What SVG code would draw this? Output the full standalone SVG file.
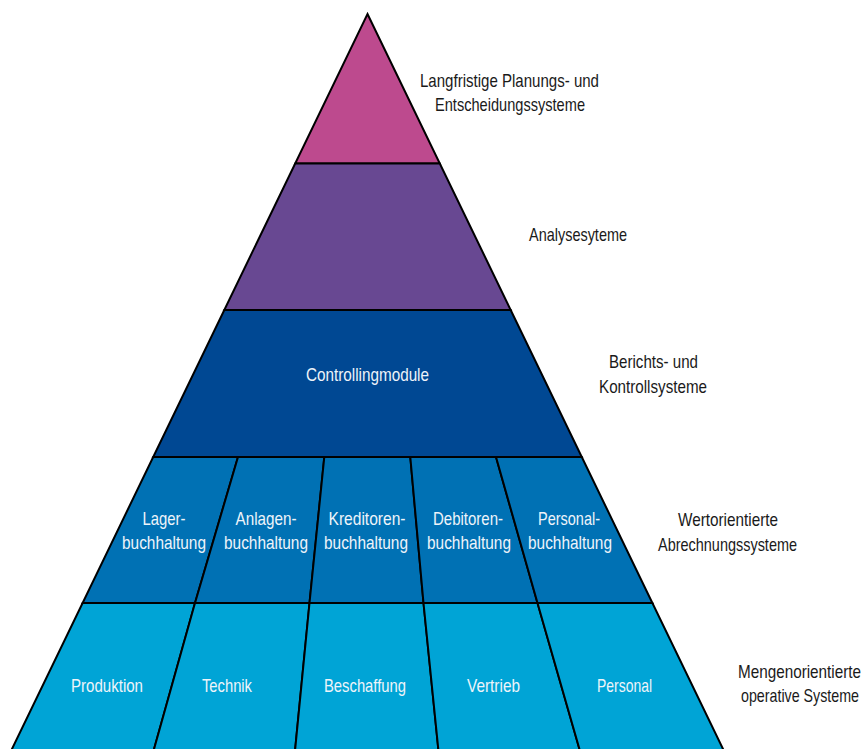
<svg xmlns="http://www.w3.org/2000/svg" width="864" height="749" viewBox="0 0 864 749">
<style>
.cell{stroke:#000;stroke-width:2;stroke-linejoin:miter}
.in{font-family:"Liberation Sans","DejaVu Sans",sans-serif;font-size:18.5px;fill:#eef4fa;text-anchor:middle}
.out{font-family:"Liberation Sans","DejaVu Sans",sans-serif;font-size:18.5px;fill:#1a1a1a;text-anchor:middle}
</style>
<rect width="864" height="749" fill="#fff"/>
<g id="level1">
<polygon class="cell" fill="#bd4a8e" points="367.5,14 439.8,163.5 295.2,163.5"/>
</g>
<g id="level2">
<polygon class="cell" fill="#684892" points="295.2,163.5 439.8,163.5 510.7,310 224.3,310"/>
</g>
<g id="level3">
<polygon class="cell" fill="#004893" points="224.3,310 510.7,310 581.8,457 153.2,457"/>
<text class="in" x="367.5" y="381" textLength="123" lengthAdjust="spacingAndGlyphs">Controllingmodule</text>
</g>
<g id="lager">
<polygon class="cell" fill="#0071b4" points="153.2,457 238,457 195,603 82.6,603"/>
<text class="in" x="164" y="525" textLength="43" lengthAdjust="spacingAndGlyphs">Lager-</text>
<text class="in" x="164" y="549" textLength="84" lengthAdjust="spacingAndGlyphs">buchhaltung</text>
</g>
<g id="anlagen">
<polygon class="cell" fill="#0071b4" points="238,457 324.3,457 309.5,603 195,603"/>
<text class="in" x="266" y="525" textLength="61" lengthAdjust="spacingAndGlyphs">Anlagen-</text>
<text class="in" x="266" y="549" textLength="84" lengthAdjust="spacingAndGlyphs">buchhaltung</text>
</g>
<g id="kreditoren">
<polygon class="cell" fill="#0071b4" points="324.3,457 410.3,457 423.5,603 309.5,603"/>
<text class="in" x="367" y="525" textLength="77" lengthAdjust="spacingAndGlyphs">Kreditoren-</text>
<text class="in" x="366" y="549" textLength="84" lengthAdjust="spacingAndGlyphs">buchhaltung</text>
</g>
<g id="debitoren">
<polygon class="cell" fill="#0071b4" points="410.3,457 496,457 537.5,603 423.5,603"/>
<text class="in" x="468" y="525" textLength="70" lengthAdjust="spacingAndGlyphs">Debitoren-</text>
<text class="in" x="469" y="549" textLength="84" lengthAdjust="spacingAndGlyphs">buchhaltung</text>
</g>
<g id="personalbuchhaltung">
<polygon class="cell" fill="#0071b4" points="496,457 581.8,457 652.4,603 537.5,603"/>
<text class="in" x="569" y="525" textLength="62" lengthAdjust="spacingAndGlyphs">Personal-</text>
<text class="in" x="570" y="549" textLength="84" lengthAdjust="spacingAndGlyphs">buchhaltung</text>
</g>
<g id="produktion">
<polygon class="cell" fill="#00a4d6" points="82.6,603 195,603 153.5,751 11,751"/>
<text class="in" x="107" y="692" textLength="72" lengthAdjust="spacingAndGlyphs">Produktion</text>
</g>
<g id="technik">
<polygon class="cell" fill="#00a4d6" points="195,603 309.5,603 295,751 153.5,751"/>
<text class="in" x="227" y="692" textLength="50" lengthAdjust="spacingAndGlyphs">Technik</text>
</g>
<g id="beschaffung">
<polygon class="cell" fill="#00a4d6" points="309.5,603 423.5,603 438.5,751 295,751"/>
<text class="in" x="365" y="692" textLength="82" lengthAdjust="spacingAndGlyphs">Beschaffung</text>
</g>
<g id="vertrieb">
<polygon class="cell" fill="#00a4d6" points="423.5,603 537.5,603 580,751 438.5,751"/>
<text class="in" x="493.5" y="692" textLength="53" lengthAdjust="spacingAndGlyphs">Vertrieb</text>
</g>
<g id="personal">
<polygon class="cell" fill="#00a4d6" points="537.5,603 652.4,603 724,751 580,751"/>
<text class="in" x="624.5" y="692" textLength="55" lengthAdjust="spacingAndGlyphs">Personal</text>
</g>
<g id="labels">
<text class="out" x="509.5" y="87" textLength="179" lengthAdjust="spacingAndGlyphs">Langfristige Planungs- und</text>
<text class="out" x="510" y="111" textLength="150" lengthAdjust="spacingAndGlyphs">Entscheidungssysteme</text>
<text class="out" x="578" y="241" textLength="98" lengthAdjust="spacingAndGlyphs">Analysesyteme</text>
<text class="out" x="653.5" y="368" textLength="89" lengthAdjust="spacingAndGlyphs">Berichts- und</text>
<text class="out" x="653" y="393" textLength="108" lengthAdjust="spacingAndGlyphs">Kontrollsysteme</text>
<text class="out" x="728" y="526" textLength="100" lengthAdjust="spacingAndGlyphs">Wertorientierte</text>
<text class="out" x="727.5" y="551" textLength="139" lengthAdjust="spacingAndGlyphs">Abrechnungssysteme</text>
<text class="out" x="799.5" y="678" textLength="123" lengthAdjust="spacingAndGlyphs">Mengenorientierte</text>
<text class="out" x="800" y="702" textLength="118" lengthAdjust="spacingAndGlyphs">operative Systeme</text>
</g>
</svg>
